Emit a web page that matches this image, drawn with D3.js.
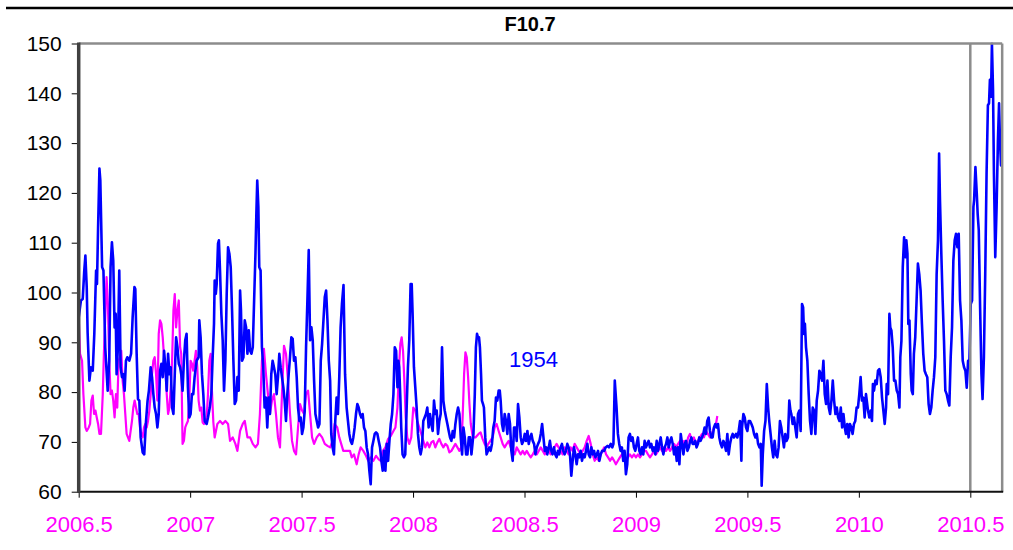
<!DOCTYPE html>
<html>
<head>
<meta charset="utf-8">
<script src="https://cdn.jsdelivr.net/npm/d3@7"></script>
<style>
  body { margin: 0; background: #fff; }
  svg { display: block; font-family: "Liberation Sans", Arial, sans-serif; }
</style>
</head>
<body>
<svg id="chart" width="1013" height="550"></svg>
<script>
// tick labels
const xTicks = [2006.5, 2007, 2007.5, 2008, 2008.5, 2009, 2009.5, 2010, 2010.5]
const yTicks = [60, 70, 80, 90, 100, 110, 120, 130, 140, 150]
const xEnd = 2010.643

// current cycle, daily F10.7 (blue)
const cycleYears = [
  2006.495, 2006.500, 2006.510, 2006.518, 2006.525, 2006.530, 2006.536, 2006.540, 2006.548, 2006.555,
  2006.563, 2006.570, 2006.578, 2006.582, 2006.587, 2006.593, 2006.597, 2006.605, 2006.611, 2006.619,
  2006.630, 2006.637, 2006.643, 2006.649, 2006.655, 2006.661, 2006.666, 2006.670, 2006.676, 2006.682,
  2006.688, 2006.694, 2006.700, 2006.706, 2006.712, 2006.718, 2006.727, 2006.735, 2006.742, 2006.750,
  2006.754, 2006.760, 2006.766, 2006.772, 2006.778, 2006.787, 2006.794, 2006.802, 2006.809, 2006.815,
  2006.823, 2006.829, 2006.835, 2006.841, 2006.847, 2006.853, 2006.859, 2006.865, 2006.871, 2006.877,
  2006.883, 2006.889, 2006.895, 2006.901, 2006.907, 2006.913, 2006.919, 2006.925, 2006.931, 2006.937,
  2006.943, 2006.949, 2006.955, 2006.960, 2006.966, 2006.972, 2006.978, 2006.984, 2006.990, 2006.996,
  2007.002, 2007.008, 2007.014, 2007.020, 2007.029, 2007.038, 2007.041, 2007.047, 2007.053, 2007.059,
  2007.065, 2007.074, 2007.080, 2007.088, 2007.095, 2007.101, 2007.107, 2007.110, 2007.115, 2007.119,
  2007.125, 2007.129, 2007.134, 2007.140, 2007.146, 2007.152, 2007.158, 2007.164, 2007.170, 2007.176,
  2007.182, 2007.188, 2007.194, 2007.200, 2007.206, 2007.212, 2007.218, 2007.224, 2007.228, 2007.233,
  2007.239, 2007.245, 2007.251, 2007.257, 2007.263, 2007.269, 2007.275, 2007.281, 2007.287, 2007.293,
  2007.297, 2007.301, 2007.306, 2007.310, 2007.316, 2007.322, 2007.328, 2007.334, 2007.340, 2007.346,
  2007.352, 2007.358, 2007.364, 2007.370, 2007.376, 2007.382, 2007.388, 2007.394, 2007.400, 2007.406,
  2007.412, 2007.418, 2007.424, 2007.430, 2007.436, 2007.442, 2007.448, 2007.454, 2007.460, 2007.466,
  2007.472, 2007.478, 2007.484, 2007.490, 2007.496, 2007.502, 2007.508, 2007.514, 2007.520, 2007.526,
  2007.532, 2007.538, 2007.544, 2007.550, 2007.556, 2007.562, 2007.568, 2007.574, 2007.580, 2007.586,
  2007.592, 2007.598, 2007.604, 2007.610, 2007.616, 2007.622, 2007.628, 2007.633, 2007.639, 2007.645,
  2007.651, 2007.657, 2007.663, 2007.669, 2007.675, 2007.681, 2007.688, 2007.695, 2007.702, 2007.708,
  2007.714, 2007.720, 2007.726, 2007.732, 2007.738, 2007.744, 2007.750, 2007.756, 2007.762, 2007.768,
  2007.774, 2007.780, 2007.786, 2007.792, 2007.798, 2007.804, 2007.810, 2007.816, 2007.822, 2007.828,
  2007.834, 2007.840, 2007.846, 2007.852, 2007.858, 2007.864, 2007.870, 2007.876, 2007.882, 2007.888,
  2007.894, 2007.900, 2007.906, 2007.912, 2007.918, 2007.924, 2007.930, 2007.934, 2007.938, 2007.943,
  2007.947, 2007.953, 2007.959, 2007.965, 2007.971, 2007.977, 2007.983, 2007.989, 2007.994, 2007.998,
  2008.004, 2008.010, 2008.016, 2008.022, 2008.028, 2008.034, 2008.040, 2008.046, 2008.052, 2008.058,
  2008.064, 2008.070, 2008.076, 2008.082, 2008.088, 2008.094, 2008.100, 2008.106, 2008.112, 2008.118,
  2008.124, 2008.130, 2008.136, 2008.142, 2008.148, 2008.154, 2008.160, 2008.166, 2008.172, 2008.178,
  2008.184, 2008.190, 2008.196, 2008.202, 2008.208, 2008.214, 2008.220, 2008.226, 2008.232, 2008.238,
  2008.244, 2008.250, 2008.256, 2008.262, 2008.271, 2008.277, 2008.282, 2008.287, 2008.291, 2008.296,
  2008.300, 2008.305, 2008.309, 2008.314, 2008.318, 2008.324, 2008.330, 2008.336, 2008.342, 2008.348,
  2008.354, 2008.360, 2008.366, 2008.372, 2008.378, 2008.384, 2008.389, 2008.393, 2008.399, 2008.405,
  2008.411, 2008.417, 2008.423, 2008.429, 2008.435, 2008.441, 2008.447, 2008.453, 2008.459, 2008.465,
  2008.471, 2008.477, 2008.483, 2008.489, 2008.495, 2008.501, 2008.507, 2008.513, 2008.519, 2008.525,
  2008.531, 2008.537, 2008.543, 2008.549, 2008.555, 2008.561, 2008.567, 2008.573, 2008.579, 2008.585,
  2008.591, 2008.597, 2008.602, 2008.609, 2008.614, 2008.620, 2008.626, 2008.632, 2008.638, 2008.644,
  2008.650, 2008.656, 2008.662, 2008.668, 2008.674, 2008.680, 2008.686, 2008.692, 2008.698, 2008.704,
  2008.710, 2008.716, 2008.722, 2008.728, 2008.734, 2008.740, 2008.746, 2008.752, 2008.758, 2008.764,
  2008.770, 2008.776, 2008.782, 2008.788, 2008.794, 2008.800, 2008.806, 2008.812, 2008.818, 2008.824,
  2008.830, 2008.836, 2008.842, 2008.848, 2008.857, 2008.864, 2008.872, 2008.879, 2008.887, 2008.894,
  2008.899, 2008.905, 2008.909, 2008.913, 2008.919, 2008.925, 2008.931, 2008.937, 2008.943, 2008.949,
  2008.955, 2008.961, 2008.967, 2008.973, 2008.979, 2008.985, 2008.991, 2008.997, 2009.003, 2009.009,
  2009.015, 2009.021, 2009.027, 2009.033, 2009.039, 2009.045, 2009.051, 2009.057, 2009.063, 2009.069,
  2009.075, 2009.081, 2009.087, 2009.093, 2009.099, 2009.105, 2009.111, 2009.117, 2009.123, 2009.129,
  2009.135, 2009.141, 2009.147, 2009.153, 2009.159, 2009.165, 2009.171, 2009.177, 2009.183, 2009.189,
  2009.195, 2009.201, 2009.207, 2009.213, 2009.219, 2009.225, 2009.231, 2009.237, 2009.243, 2009.249,
  2009.254, 2009.260, 2009.266, 2009.272, 2009.278, 2009.284, 2009.290, 2009.296, 2009.302, 2009.308,
  2009.314, 2009.320, 2009.326, 2009.332, 2009.338, 2009.344, 2009.350, 2009.356, 2009.362, 2009.368,
  2009.374, 2009.380, 2009.386, 2009.392, 2009.398, 2009.404, 2009.410, 2009.416, 2009.422, 2009.428,
  2009.434, 2009.440, 2009.449, 2009.455, 2009.461, 2009.467, 2009.473, 2009.476, 2009.482, 2009.488,
  2009.494, 2009.500, 2009.506, 2009.512, 2009.518, 2009.524, 2009.530, 2009.536, 2009.542, 2009.548,
  2009.554, 2009.560, 2009.564, 2009.569, 2009.575, 2009.581, 2009.587, 2009.593, 2009.598, 2009.604,
  2009.610, 2009.616, 2009.622, 2009.628, 2009.634, 2009.640, 2009.646, 2009.652, 2009.658, 2009.664,
  2009.670, 2009.676, 2009.682, 2009.688, 2009.693, 2009.697, 2009.703, 2009.709, 2009.715, 2009.721,
  2009.727, 2009.733, 2009.739, 2009.745, 2009.750, 2009.754, 2009.758, 2009.763, 2009.769, 2009.775,
  2009.781, 2009.787, 2009.793, 2009.799, 2009.805, 2009.811, 2009.817, 2009.823, 2009.829, 2009.835,
  2009.841, 2009.847, 2009.853, 2009.859, 2009.865, 2009.871, 2009.877, 2009.883, 2009.889, 2009.895,
  2009.901, 2009.907, 2009.913, 2009.919, 2009.925, 2009.931, 2009.937, 2009.942, 2009.948, 2009.954,
  2009.960, 2009.966, 2009.972, 2009.978, 2009.984, 2009.990, 2009.996, 2010.002, 2010.008, 2010.014,
  2010.020, 2010.026, 2010.032, 2010.041, 2010.047, 2010.053, 2010.059, 2010.063, 2010.068, 2010.074,
  2010.080, 2010.086, 2010.092, 2010.098, 2010.104, 2010.110, 2010.116, 2010.122, 2010.125, 2010.131,
  2010.137, 2010.141, 2010.146, 2010.152, 2010.158, 2010.164, 2010.170, 2010.176, 2010.182, 2010.186,
  2010.191, 2010.197, 2010.203, 2010.209, 2010.213, 2010.218, 2010.222, 2010.227, 2010.233, 2010.237,
  2010.242, 2010.247, 2010.253, 2010.259, 2010.265, 2010.271, 2010.277, 2010.283, 2010.289, 2010.295,
  2010.301, 2010.307, 2010.313, 2010.319, 2010.325, 2010.331, 2010.337, 2010.343, 2010.349, 2010.355,
  2010.360, 2010.364, 2010.370, 2010.376, 2010.382, 2010.388, 2010.394, 2010.400, 2010.406, 2010.412,
  2010.418, 2010.424, 2010.430, 2010.436, 2010.442, 2010.448, 2010.454, 2010.460, 2010.466, 2010.472,
  2010.478, 2010.484, 2010.490, 2010.496, 2010.502, 2010.508, 2010.514, 2010.517, 2010.523, 2010.529,
  2010.533, 2010.538, 2010.544, 2010.550, 2010.555, 2010.561, 2010.567, 2010.573, 2010.579, 2010.584,
  2010.588, 2010.593, 2010.597, 2010.602, 2010.606, 2010.612, 2010.618, 2010.624, 2010.629, 2010.633,
  2010.638, 2010.642, 2010.647, 2010.651
]
const cycleFlux = [
  99.1, 95.0, 98.4, 98.7, 104.4, 107.4, 101.1, 92.0, 82.3, 85.0,
  84.3, 91.7, 104.4, 101.7, 113.1, 124.9, 122.5, 105.1, 104.4, 89.0,
  80.3, 86.3, 105.1, 110.1, 106.4, 93.0, 95.7, 83.6, 89.0, 104.4,
  85.0, 83.0, 83.6, 80.3, 86.3, 87.0, 86.3, 87.7, 95.0, 101.1,
  100.7, 87.7, 78.6, 78.3, 70.9, 67.9, 67.5, 74.2, 78.3, 80.3,
  85.0, 83.0, 79.6, 76.9, 75.6, 72.9, 75.6, 84.3, 85.7, 83.0,
  88.3, 85.0, 80.3, 87.7, 83.6, 85.0, 76.9, 75.6, 83.6, 91.0,
  89.0, 85.7, 85.0, 83.6, 80.3, 86.3, 90.4, 91.7, 81.0, 74.9,
  75.6, 79.6, 79.6, 83.0, 86.3, 87.0, 94.4, 91.0, 83.6, 79.6,
  74.2, 73.6, 74.9, 76.9, 79.6, 87.0, 93.7, 102.4, 99.7, 101.7,
  109.8, 110.5, 104.4, 95.7, 90.4, 80.3, 86.3, 99.7, 109.1, 107.8,
  105.1, 96.4, 86.3, 77.6, 78.3, 83.0, 80.3, 100.4, 96.4, 86.3,
  87.0, 94.4, 93.0, 87.7, 92.4, 88.3, 87.7, 89.0, 98.4, 107.8,
  115.8, 122.5, 117.2, 105.1, 104.4, 89.0, 85.0, 76.9, 78.9, 72.9,
  78.9, 75.6, 83.6, 86.3, 85.0, 83.6, 79.6, 83.0, 87.7, 85.0,
  83.0, 81.0, 78.3, 74.2, 79.6, 83.6, 87.0, 91.0, 90.7, 86.3,
  87.0, 83.0, 76.9, 74.2, 74.9, 71.6, 72.9, 76.3, 89.0, 98.4,
  108.5, 90.4, 93.0, 90.4, 82.3, 75.6, 74.2, 72.9, 73.6, 86.3,
  89.7, 94.4, 99.1, 100.4, 94.4, 86.3, 82.3, 71.6, 68.9, 67.5,
  74.2, 78.9, 75.6, 83.0, 93.0, 97.7, 101.5, 83.6, 76.9, 74.2,
  71.6, 70.2, 69.6, 70.9, 72.9, 75.6, 77.6, 76.9, 75.6, 74.9,
  75.6, 72.9, 72.2, 68.9, 67.5, 64.2, 61.5, 68.9, 70.2, 71.6,
  71.9, 71.6, 70.2, 68.9, 66.2, 64.2, 68.2, 64.2, 69.6, 66.2,
  70.2, 73.6, 75.6, 79.6, 89.0, 88.3, 81.0, 86.3, 85.0, 78.9,
  72.9, 67.5, 66.9, 67.5, 76.3, 85.0, 90.4, 101.7, 101.7, 95.7,
  85.0, 81.0, 76.9, 71.6, 68.9, 67.5, 68.9, 74.2, 74.9, 75.6,
  76.9, 72.9, 75.6, 73.6, 72.2, 78.3, 75.6, 76.3, 71.6, 74.2,
  75.6, 89.0, 78.3, 76.3, 74.9, 73.6, 72.2, 70.9, 70.2, 72.2,
  70.9, 73.6, 75.6, 76.9, 75.6, 70.9, 67.5, 72.9, 70.9, 67.5,
  67.5, 70.9, 70.9, 67.5, 71.6, 79.6, 89.0, 91.7, 91.0, 91.0,
  89.0, 83.6, 78.3, 77.6, 76.9, 70.9, 67.5, 68.2, 68.9, 68.2,
  69.6, 72.9, 74.2, 78.9, 78.3, 80.3, 80.3, 78.3, 73.6, 72.2,
  75.6, 74.2, 71.6, 75.6, 73.6, 68.2, 66.2, 72.9, 72.9, 70.2,
  77.6, 74.9, 70.9, 69.6, 70.2, 71.6, 70.2, 72.2, 69.6, 70.9,
  71.6, 70.2, 69.6, 67.5, 68.9, 69.6, 70.2, 71.6, 73.6, 70.9,
  68.2, 68.9, 67.5, 68.9, 70.2, 68.2, 67.5, 68.9, 67.5, 66.9,
  68.2, 67.5, 68.9, 69.6, 68.2, 67.5, 68.2, 69.6, 68.9, 67.5,
  63.2, 66.2, 68.9, 67.5, 65.5, 67.5, 66.9, 68.2, 66.2, 67.5,
  66.9, 68.2, 69.6, 67.5, 66.9, 68.9, 67.5, 68.2, 66.9, 67.5,
  68.2, 66.2, 67.5, 68.2, 68.2, 68.9, 69.2, 68.9, 69.6, 68.9,
  69.6, 82.3, 79.6, 76.9, 71.6, 69.6, 68.2, 68.9, 66.2, 68.2,
  63.5, 65.5, 70.9, 71.6, 70.2, 70.9, 68.9, 68.2, 69.6, 70.9,
  68.2, 67.5, 68.9, 67.5, 70.2, 68.9, 69.6, 70.2, 68.9, 69.6,
  68.2, 68.9, 67.5, 70.2, 68.2, 69.6, 70.9, 68.9, 67.5, 68.9,
  69.6, 70.9, 68.9, 70.2, 70.9, 69.6, 67.5, 68.9, 66.2, 68.9,
  65.5, 71.6, 69.6, 67.5, 69.6, 70.2, 68.2, 68.9, 70.2, 70.9,
  69.6, 69.6, 70.2, 68.9, 69.6, 70.9, 70.2, 70.9, 71.6, 72.9,
  71.6, 74.2, 74.9, 72.2, 70.9, 70.9, 72.9, 73.6, 72.9, 73.6,
  70.9, 69.6, 68.9, 70.2, 69.6, 68.2, 71.6, 67.5, 69.6, 70.9,
  71.6, 70.9, 71.6, 70.9, 72.2, 74.2, 66.2, 72.9, 75.6, 74.9,
  72.9, 72.2, 74.2, 74.2, 73.6, 72.9, 71.6, 70.9, 71.6, 69.6,
  68.9, 69.6, 61.2, 67.5, 72.2, 74.2, 81.6, 76.9, 74.2, 71.6,
  68.9, 66.9, 70.2, 67.5, 66.9, 68.9, 74.2, 72.9, 70.9, 68.9,
  71.6, 70.2, 70.9, 78.3, 76.3, 75.6, 73.6, 74.9, 72.9, 70.9,
  75.6, 76.3, 72.2, 97.7, 97.0, 91.7, 93.7, 89.0, 86.3, 79.6,
  74.2, 71.6, 76.9, 76.3, 71.6, 78.3, 80.3, 84.3, 83.6, 82.3,
  86.3, 79.6, 77.6, 82.3, 76.9, 75.6, 78.3, 82.3, 78.3, 75.6,
  76.9, 74.9, 74.2, 76.9, 72.9, 75.6, 72.9, 71.6, 73.6, 70.9,
  73.6, 72.9, 71.6, 73.6, 74.2, 76.9, 76.9, 79.6, 83.0, 78.3,
  78.9, 74.9, 79.6, 76.3, 74.9, 76.3, 74.2, 81.6, 80.3, 82.3,
  81.6, 84.3, 84.6, 83.0, 78.9, 76.3, 73.6, 76.9, 81.6, 79.6,
  95.7, 93.0, 92.4, 89.0, 82.3, 82.3, 80.3, 79.6, 76.9, 87.0,
  90.3, 105.1, 111.1, 107.1, 110.5, 107.8, 93.7, 94.4, 83.6, 80.3,
  79.6, 87.7, 91.0, 98.4, 105.8, 103.7, 100.4, 93.7, 87.7, 84.3,
  83.6, 83.0, 77.6, 75.6, 76.9, 80.3, 83.0, 87.0, 103.7, 110.5,
  127.9, 118.5, 107.8, 98.4, 90.3, 80.3, 79.6, 78.3, 77.3, 87.0,
  93.0, 106.4, 110.5, 111.8, 109.1, 111.8, 98.4, 94.4, 86.3, 85.0,
  84.3, 80.9, 86.3, 86.3, 97.7, 98.4, 117.2, 118.5, 125.2, 119.9,
  115.8, 112.5, 97.0, 83.6, 78.6, 87.0, 103.7, 123.9, 137.6, 138.0,
  142.7, 139.3, 150.0, 140.6, 123.9, 107.1, 117.2, 130.6, 138.0, 130.6,
  125.5, 132.6, 129.9, 127.2
]

// 1954 minimum, shifted onto the same time axis (magenta)
const minYears = [
  2006.500, 2006.506, 2006.515, 2006.521, 2006.530, 2006.536, 2006.545, 2006.551, 2006.557, 2006.563,
  2006.569, 2006.575, 2006.581, 2006.587, 2006.593, 2006.600, 2006.608, 2006.613, 2006.619, 2006.625,
  2006.631, 2006.637, 2006.643, 2006.649, 2006.655, 2006.661, 2006.667, 2006.673, 2006.679, 2006.685,
  2006.691, 2006.697, 2006.703, 2006.709, 2006.715, 2006.721, 2006.727, 2006.733, 2006.739, 2006.745,
  2006.751, 2006.757, 2006.763, 2006.769, 2006.775, 2006.781, 2006.787, 2006.793, 2006.799, 2006.805,
  2006.811, 2006.817, 2006.823, 2006.829, 2006.835, 2006.841, 2006.847, 2006.853, 2006.859, 2006.865,
  2006.871, 2006.877, 2006.883, 2006.889, 2006.895, 2006.901, 2006.907, 2006.913, 2006.919, 2006.925,
  2006.931, 2006.937, 2006.943, 2006.949, 2006.955, 2006.960, 2006.966, 2006.972, 2006.978, 2006.984,
  2006.990, 2006.996, 2007.002, 2007.008, 2007.014, 2007.020, 2007.026, 2007.032, 2007.038, 2007.044,
  2007.050, 2007.056, 2007.062, 2007.068, 2007.074, 2007.080, 2007.086, 2007.092, 2007.098, 2007.104,
  2007.110, 2007.122, 2007.134, 2007.146, 2007.158, 2007.170, 2007.179, 2007.191, 2007.203, 2007.212,
  2007.224, 2007.236, 2007.245, 2007.257, 2007.269, 2007.281, 2007.293, 2007.304, 2007.313, 2007.322,
  2007.331, 2007.340, 2007.349, 2007.358, 2007.367, 2007.376, 2007.385, 2007.394, 2007.403, 2007.412,
  2007.421, 2007.430, 2007.439, 2007.448, 2007.457, 2007.466, 2007.475, 2007.484, 2007.493, 2007.502,
  2007.511, 2007.520, 2007.529, 2007.538, 2007.547, 2007.556, 2007.568, 2007.580, 2007.592, 2007.604,
  2007.616, 2007.628, 2007.639, 2007.648, 2007.660, 2007.669, 2007.687, 2007.702, 2007.717, 2007.725,
  2007.735, 2007.747, 2007.756, 2007.765, 2007.777, 2007.789, 2007.799, 2007.810, 2007.822, 2007.834,
  2007.846, 2007.855, 2007.864, 2007.876, 2007.888, 2007.900, 2007.912, 2007.921, 2007.930, 2007.937,
  2007.943, 2007.949, 2007.955, 2007.961, 2007.967, 2007.974, 2007.983, 2007.992, 2008.001, 2008.010,
  2008.019, 2008.028, 2008.037, 2008.046, 2008.055, 2008.064, 2008.073, 2008.082, 2008.091, 2008.100,
  2008.109, 2008.118, 2008.127, 2008.136, 2008.145, 2008.154, 2008.163, 2008.172, 2008.181, 2008.190,
  2008.199, 2008.208, 2008.217, 2008.223, 2008.229, 2008.235, 2008.241, 2008.247, 2008.253, 2008.259,
  2008.268, 2008.280, 2008.294, 2008.303, 2008.312, 2008.321, 2008.330, 2008.339, 2008.348, 2008.357,
  2008.366, 2008.375, 2008.384, 2008.393, 2008.402, 2008.411, 2008.420, 2008.429, 2008.438, 2008.447,
  2008.456, 2008.465, 2008.474, 2008.483, 2008.492, 2008.501, 2008.510, 2008.519, 2008.528, 2008.537,
  2008.546, 2008.555, 2008.564, 2008.573, 2008.582, 2008.591, 2008.600, 2008.609, 2008.617, 2008.626,
  2008.635, 2008.644, 2008.653, 2008.662, 2008.671, 2008.680, 2008.689, 2008.698, 2008.707, 2008.716,
  2008.725, 2008.734, 2008.743, 2008.752, 2008.761, 2008.770, 2008.779, 2008.788, 2008.797, 2008.806,
  2008.815, 2008.824, 2008.833, 2008.842, 2008.857, 2008.866, 2008.875, 2008.884, 2008.893, 2008.902,
  2008.910, 2008.919, 2008.928, 2008.937, 2008.946, 2008.955, 2008.964, 2008.973, 2008.982, 2008.991,
  2009.000, 2009.009, 2009.018, 2009.027, 2009.036, 2009.045, 2009.054, 2009.063, 2009.072, 2009.081,
  2009.090, 2009.099, 2009.108, 2009.117, 2009.126, 2009.135, 2009.144, 2009.153, 2009.162, 2009.171,
  2009.180, 2009.189, 2009.198, 2009.207, 2009.216, 2009.225, 2009.234, 2009.242, 2009.251, 2009.260,
  2009.269, 2009.278, 2009.287, 2009.296, 2009.305, 2009.314, 2009.323, 2009.332, 2009.341, 2009.350,
  2009.359, 2009.365
]
const minFlux = [
  95.0, 87.7, 86.3, 79.6, 72.9, 72.2, 72.9, 73.6, 78.3, 79.3,
  75.6, 76.3, 74.9, 73.6, 71.6, 71.6, 79.6, 87.7, 95.0, 103.1,
  97.7, 86.3, 79.6, 80.3, 78.3, 74.9, 79.6, 76.9, 86.3, 87.0,
  88.3, 82.3, 79.6, 75.6, 71.6, 70.9, 70.2, 72.2, 74.2, 76.9,
  78.3, 76.9, 75.6, 75.6, 72.9, 71.6, 70.9, 72.9, 73.6, 72.9,
  74.2, 76.3, 79.6, 83.6, 86.3, 87.0, 83.6, 78.3, 91.7, 94.4,
  93.7, 91.0, 87.0, 85.0, 79.6, 75.6, 76.9, 81.0, 86.3, 96.4,
  99.7, 93.0, 96.4, 98.4, 89.0, 87.7, 69.6, 70.2, 72.9, 73.6,
  74.2, 78.3, 86.3, 85.7, 84.3, 86.3, 88.3, 85.0, 78.3, 76.3,
  76.9, 73.9, 73.6, 74.2, 74.9, 79.6, 86.3, 87.7, 80.0, 74.0,
  70.9, 73.6, 74.2, 73.6, 74.2, 73.6, 70.2, 70.9, 69.6, 68.2,
  72.2, 73.6, 74.2, 70.9, 70.9, 69.6, 68.9, 69.6, 75.6, 86.3,
  88.7, 83.6, 79.6, 75.6, 78.3, 79.6, 75.6, 70.9, 68.9, 79.6,
  89.3, 87.7, 82.3, 75.6, 70.2, 68.2, 67.5, 72.9, 77.6, 76.3,
  75.6, 79.6, 80.3, 75.6, 70.9, 69.6, 70.9, 71.6, 70.9, 69.6,
  69.2, 68.9, 70.2, 73.6, 72.9, 70.9, 68.2, 68.2, 68.2, 66.9,
  67.5, 65.5, 67.5, 68.9, 68.2, 67.2, 66.2, 66.9, 66.2, 67.2,
  66.5, 66.2, 68.2, 68.9, 70.6, 71.2, 72.2, 72.9, 76.9, 85.0,
  89.7, 91.0, 88.3, 82.3, 74.9, 70.9, 69.6, 70.9, 76.9, 76.3,
  74.2, 72.9, 71.6, 70.2, 68.9, 69.9, 68.9, 69.9, 70.2, 68.9,
  69.9, 70.6, 69.6, 68.9, 69.6, 69.2, 67.9, 68.2, 68.9, 69.6,
  68.9, 68.2, 68.9, 75.6, 83.6, 88.0, 87.0, 83.0, 77.6, 73.6,
  70.9, 70.9, 71.6, 71.9, 70.6, 69.6, 69.0, 69.7, 70.3, 70.9,
  72.9, 73.6, 72.2, 70.9, 69.6, 68.9, 69.6, 70.2, 68.9, 68.2,
  67.5, 68.9, 68.2, 67.5, 68.2, 67.5, 68.2, 67.5, 66.9, 67.5,
  68.2, 67.5, 68.2, 68.9, 68.2, 67.5, 68.9, 68.2, 67.5, 68.2,
  68.9, 69.6, 68.9, 68.2, 67.5, 68.9, 68.2, 67.5, 68.9, 68.2,
  69.6, 68.9, 68.2, 67.5, 68.2, 68.9, 70.2, 71.2, 69.6, 67.5,
  66.2, 66.9, 66.2, 67.5, 68.9, 67.5, 66.9, 66.2, 66.9, 66.2,
  65.5, 66.2, 66.9, 67.5, 66.9, 66.2, 66.9, 67.5, 66.9, 67.5,
  66.9, 67.5, 66.9, 67.5, 68.2, 68.2, 67.5, 66.9, 67.5, 68.2,
  67.5, 68.2, 68.9, 68.2, 68.9, 68.2, 68.9, 68.2, 68.9, 69.6,
  68.9, 69.6, 70.2, 69.6, 70.2, 68.9, 70.9, 71.6, 70.2, 70.9,
  69.6, 70.2, 70.9, 71.6, 70.9, 72.2, 71.6, 70.9, 71.6, 72.9,
  73.6, 75.2
]

const svg = d3.select('#chart')

const x = d3.scaleLinear().domain([2006.5, 2010.5]).range([78.7, 970.3])
const y = d3.scaleLinear().domain([60, 150]).range([491.7, 43.5])
const plotLeft = x(2006.5), plotRight = x(xEnd)
const plotTop = y(150), plotBottom = y(60)

// rule above the title
svg.append('line')
  .attr('x1', 6).attr('x2', 1013).attr('y1', 8).attr('y2', 8)
  .attr('stroke', '#000').attr('stroke-width', 2.5)

svg.append('text')
  .attr('x', 530).attr('y', 31)
  .attr('text-anchor', 'middle')
  .attr('font-size', 20).attr('font-weight', 'bold')
  .text('F10.7')

svg.append('clipPath').attr('id', 'plotClip')
  .append('rect')
  .attr('x', plotLeft).attr('y', plotTop - 1)
  .attr('width', plotRight - plotLeft).attr('height', plotBottom - plotTop + 1)

const line = d3.line()
  .x(d => x(d[0]))
  .y(d => y(d[1]))

const plot = svg.append('g').attr('clip-path', 'url(#plotClip)')

plot.append('path')
  .datum(d3.zip(minYears, minFlux))
  .attr('d', line)
  .attr('fill', 'none')
  .attr('stroke', '#ff00ff')
  .attr('stroke-width', 2.2)
  .attr('stroke-linejoin', 'round')

plot.append('path')
  .datum(d3.zip(cycleYears, cycleFlux))
  .attr('d', line)
  .attr('fill', 'none')
  .attr('stroke', '#0000ff')
  .attr('stroke-width', 2.6)
  .attr('stroke-linejoin', 'round')

// grey frame: top, right and the 2010.5 marker
const frame = svg.append('g').attr('stroke', '#8c8c8c').attr('stroke-width', 2.5)
frame.append('line').attr('x1', plotLeft).attr('x2', plotRight).attr('y1', plotTop).attr('y2', plotTop)
frame.append('line').attr('x1', plotRight).attr('x2', plotRight).attr('y1', plotTop).attr('y2', plotBottom)
frame.append('line').attr('x1', x(2010.5)).attr('x2', x(2010.5)).attr('y1', plotTop).attr('y2', plotBottom)

// axes
const yAxis = svg.append('g')
  .attr('transform', `translate(${plotLeft},0)`)
  .call(d3.axisLeft(y).tickValues(yTicks).tickSize(7).tickSizeOuter(0).tickPadding(10))
yAxis.select('.domain').remove()
yAxis.selectAll('text').attr('font-size', 21).attr('fill', '#000')
  .attr('font-family', '"Liberation Sans", Arial, sans-serif')

const xAxis = svg.append('g')
  .attr('transform', `translate(0,${plotBottom})`)
  .call(d3.axisBottom(x).tickValues(xTicks).tickSize(6).tickSizeOuter(0).tickPadding(19)
    .tickFormat(d => String(d)))
xAxis.select('.domain').remove()
xAxis.selectAll('text').attr('font-size', 22).attr('fill', '#ff00ff')
  .attr('font-family', '"Liberation Sans", Arial, sans-serif')

svg.append('line')
  .attr('x1', plotLeft - 1).attr('x2', plotRight + 1).attr('y1', plotBottom).attr('y2', plotBottom)
  .attr('stroke', '#111').attr('stroke-width', 2)
svg.append('line')
  .attr('x1', plotLeft).attr('x2', plotLeft).attr('y1', plotTop - 1).attr('y2', plotBottom + 1)
  .attr('stroke', '#404040').attr('stroke-width', 3.5)

svg.append('text')
  .attr('x', 509).attr('y', 367)
  .attr('font-size', 22).attr('fill', '#0000ff')
  .text('1954')
</script>
</body>
</html>
